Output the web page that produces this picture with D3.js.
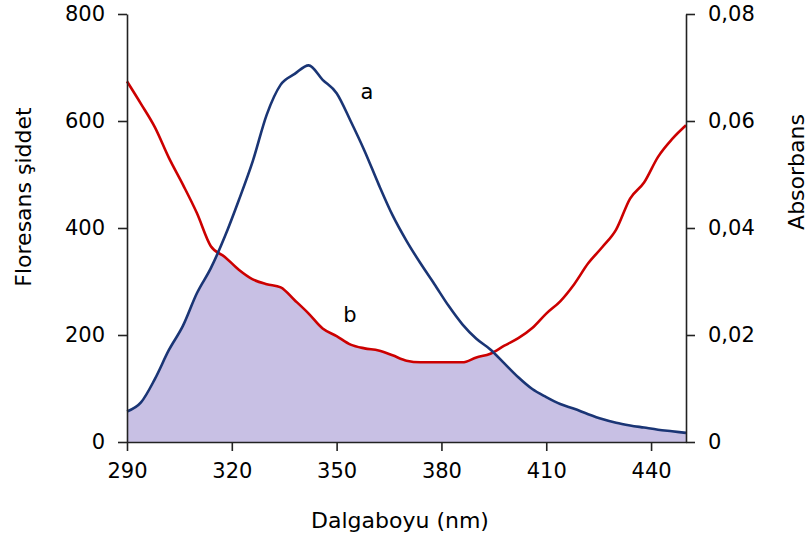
<!DOCTYPE html>
<html>
<head>
<meta charset="utf-8">
<script src="https://cdn.jsdelivr.net/npm/d3@7"></script>
<style>
  html, body { margin: 0; padding: 0; background: #fff; }
  svg { display: block; }
  text { font-family: "DejaVu Sans", Verdana, sans-serif; fill: #000; }
</style>
</head>
<body>
<svg id="chart" width="808" height="538"></svg>
<script>
// Wavelengths (nm) shared by both spectra
const wavelength = [290,294,298,302,306,310,314,318,322,326,330,334,338,342,346,350,354,358,362,366,370,
                    374,378,382,386,390,394,398,402,406,410,414,418,422,426,430,434,438,442,446,450];
// (a) fluorescence intensity, left axis
const fluorescence = [57,74,118,172,217,278,325,384,452,525,612,668,688,704,677,652,600,544,482,424,376,
                      334,295,255,220,193,173,147,121,99,84,71,62,52,43,36,31,27,23,20,17];
// (b) absorbance, right axis
const absorbance = [0.0674,0.0632,0.0588,0.0531,0.0481,0.0428,0.0366,0.0346,0.0322,0.0304,0.0295,0.0289,
                    0.0265,0.0240,0.0212,0.0198,0.0182,0.0175,0.0171,0.0162,0.0152,0.0149,0.0149,0.0149,
                    0.0149,0.0158,0.0165,0.0180,0.0194,0.0213,0.0240,0.0263,0.0295,0.0334,0.0364,0.0397,
                    0.0455,0.0485,0.0533,0.0566,0.0592];

const xTicks = [290,320,350,380,410,440];
const leftTicks = [0,200,400,600,800];
const rightTicks = [0,0.02,0.04,0.06,0.08];

const svg = d3.select("#chart");
const plotL = 127, plotR = 686, plotT = 14, plotB = 442;

const x = d3.scaleLinear().domain([290,450]).range([plotL,plotR]);
const yL = d3.scaleLinear().domain([0,800]).range([plotB,plotT]);
const yR = d3.scaleLinear().domain([0,0.08]).range([plotB,plotT]);

const pts = wavelength.map((w,i) => ({w, f: fluorescence[i], a: absorbance[i]}));
const curve = d3.curveMonotoneX;

// Overlap region: area under (a) clipped to the area under (b)
const defs = svg.append("defs");
defs.append("clipPath").attr("id","underB")
  .append("path")
  .attr("d", d3.area().curve(curve).x(d => x(d.w)).y0(plotB).y1(d => yR(d.a))(pts));

svg.append("path")
  .attr("d", d3.area().curve(curve).x(d => x(d.w)).y0(plotB).y1(d => yL(d.f))(pts))
  .attr("fill","#c8c0e4")
  .attr("clip-path","url(#underB)");

// Spectra
svg.append("path")
  .attr("d", d3.line().curve(curve).x(d => x(d.w)).y(d => yR(d.a))(pts))
  .attr("fill","none").attr("stroke","#cc0000").attr("stroke-width",2.6)
  .attr("stroke-linejoin","round");

svg.append("path")
  .attr("d", d3.line().curve(curve).x(d => x(d.w)).y(d => yL(d.f))(pts))
  .attr("fill","none").attr("stroke","#1a3575").attr("stroke-width",2.6)
  .attr("stroke-linejoin","round");

// Axes
const fmtComma = v => v === 0 ? "0" : d3.format(".2f")(v).replace(".", ",");

const gx = svg.append("g").attr("transform",`translate(0,${plotB})`)
  .call(d3.axisBottom(x).tickValues(xTicks).tickSize(9).tickSizeOuter(0).tickPadding(12));
const gl = svg.append("g").attr("transform",`translate(${plotL},0)`)
  .call(d3.axisLeft(yL).tickValues(leftTicks).tickSize(9).tickSizeOuter(0).tickPadding(13));
const gr = svg.append("g").attr("transform",`translate(${plotR},0)`)
  .call(d3.axisRight(yR).tickValues(rightTicks).tickFormat(fmtComma).tickSize(9).tickSizeOuter(0).tickPadding(13));

[gx,gl,gr].forEach(g => {
  g.selectAll("path.domain").attr("stroke","#222").attr("stroke-width",1.6);
  g.selectAll(".tick line").attr("stroke","#222").attr("stroke-width",1.6);
  g.selectAll("text").attr("font-size",21).attr("font-family","DejaVu Sans, Verdana, sans-serif").attr("fill","#000");
});

// Axis titles
svg.append("text").attr("x", 400).attr("y", 528)
  .attr("text-anchor","middle").attr("font-size",22).text("Dalgaboyu (nm)");
svg.append("text").attr("transform","translate(31,197) rotate(-90)")
  .attr("text-anchor","middle").attr("font-size",22).text("Floresans şiddet");
svg.append("text").attr("transform","translate(804,172) rotate(-90)")
  .attr("text-anchor","middle").attr("font-size",22).text("Absorbans");

// Curve labels
svg.append("text").attr("x",367).attr("y",99).attr("text-anchor","middle").attr("font-size",21).text("a");
svg.append("text").attr("x",350).attr("y",322).attr("text-anchor","middle").attr("font-size",21).text("b");
</script>
</body>
</html>
